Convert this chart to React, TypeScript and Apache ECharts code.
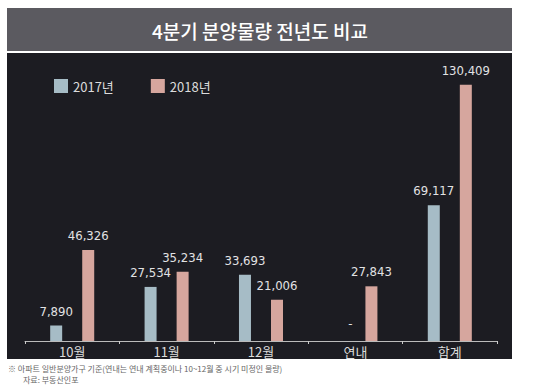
import React, { useEffect, useRef } from "react";
import * as echarts from "echarts";

const categories = ["10월", "11월", "12월", "연내", "합계"];
const series2017 = [7890, 27534, 33693, 0, 69117];
const series2018 = [46326, 35234, 21006, 27843, 130409];
const seriesNames = ["2017년", "2018년"];
const titleText = "4분기 분양물량 전년도 비교";
const noteText = "※ 아파트 일반분양가구 기준(연내는 연내 계획중이나 10~12월 중 시기 미정인 물량)";
const sourceText = "자료: 부동산인포";

const NUM_FONT = '"DejaVu Sans Condensed", sans-serif';
const KR_FONT = '"Noto Sans CJK KR", "Noto Sans", sans-serif';

export default function App() {
  const ref = useRef<HTMLDivElement>(null);
  useEffect(() => {
    if (!ref.current) return;
    const chart = echarts.init(ref.current, undefined, { renderer: "svg" });
    const fmt = (v: number) => (v === 0 ? "-" : v.toLocaleString("en-US"));
    const labelCfg = {
      show: true,
      position: "top",
      distance: 8,
      color: "#e2e2e4",
      fontFamily: NUM_FONT,
      fontSize: 13,
      formatter: (p: any) => fmt(p.value),
    };
    chart.setOption({
      animation: false,
      backgroundColor: "#ffffff",
      graphic: [
        { type: "rect", shape: { x: 7, y: 8, width: 505, height: 43 }, style: { fill: "#5b5a60" }, z: -10 },
        { type: "rect", shape: { x: 7, y: 53, width: 505, height: 306 }, style: { fill: "#1c1c22" }, z: -10 },
        {
          type: "text",
          x: 260,
          y: 30,
          style: {
            text: titleText,
            fill: "#ffffff",
            font: `500 19px ${KR_FONT}`,
            textAlign: "center",
            textVerticalAlign: "middle",
          },
        },
        {
          type: "text",
          x: 8,
          y: 368,
          style: { text: noteText, fill: "#666666", font: `8px ${KR_FONT}`, textVerticalAlign: "middle" },
        },
        {
          type: "text",
          x: 23,
          y: 379,
          style: { text: sourceText, fill: "#666666", font: `8px ${KR_FONT}`, textVerticalAlign: "middle" },
        },
      ],
      legend: {
        left: 49,
        top: 74,
        itemWidth: 14,
        itemHeight: 14,
        itemGap: 37,
        icon: "rect",
        textStyle: { color: "#dcdcdc", fontSize: 13, fontFamily: KR_FONT },
        data: seriesNames,
      },
      grid: { left: 25, right: 43, top: 66, bottom: 45 },
      xAxis: {
        type: "category",
        data: categories,
        axisLine: { lineStyle: { color: "#bbbbbb", width: 1 } },
        axisTick: { show: true, length: 3, lineStyle: { color: "#cccccc" } },
        axisLabel: { color: "#dcdcdc", fontSize: 13, fontFamily: KR_FONT, margin: 4 },
      },
      yAxis: {
        type: "value",
        min: 0,
        max: 140000,
        show: false,
        splitLine: { show: false },
      },
      series: [
        {
          name: seriesNames[0],
          type: "bar",
          barWidth: 12,
          barGap: "167%",
          itemStyle: { color: "#a6bcc6" },
          label: labelCfg,
          data: series2017.map((v) => (v === 0 ? { value: v, label: { offset: [11, -3] } } : v)),
        },
        {
          name: seriesNames[1],
          type: "bar",
          barWidth: 12,
          itemStyle: { color: "#d6a69e" },
          label: labelCfg,
          data: series2018,
        },
      ],
    });
    return () => chart.dispose();
  }, []);
  return (
    <div
      ref={ref}
      style={{ position: "fixed", left: 0, top: 0, width: 540, height: 386 }}
    />
  );
}
